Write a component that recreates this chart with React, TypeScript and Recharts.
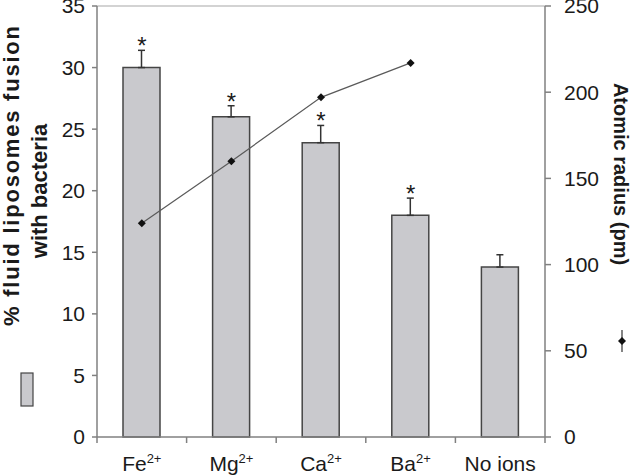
import { ComposedChart, Bar, Line, XAxis, YAxis, ErrorBar, LabelList, ReferenceLine } from 'recharts';

const categories = ['Fe', 'Mg', 'Ca', 'Ba', 'No ions'];
const charges = ['2+', '2+', '2+', '2+', ''];
const fusionPct = [30, 26, 23.9, 18, 13.8];
const fusionErr = [1.4, 0.9, 1.4, 1.4, 1.0];
const significant = ['*', '*', '*', '*', ''];
const atomicRadius = [124, 160, 197, 217, null];
const leftTicks = [0, 5, 10, 15, 20, 25, 30, 35];
const rightTicks = [0, 50, 100, 150, 200, 250];

const data = categories.map((name, i) => ({
  name,
  fusion: fusionPct[i],
  err: [0, fusionErr[i]],
  starAt: significant[i] ? fusionPct[i] + fusionErr[i] : null,
  star: significant[i],
  atomic: atomicRadius[i],
}));

const FONT = '"Liberation Sans", Arial, sans-serif';
const AXIS = '#808080';
const INK = '#1a1a1a';

function CategoryTick(props: any) {
  const { x, y, payload, index } = props;
  const half = payload?.offset || 44.8;
  const charge = charges[index];
  return (
    <g>
      <line x1={x - half} x2={x - half} y1={y} y2={y + 6} stroke={AXIS} strokeWidth={1.5} />
      {index === categories.length - 1 && (
        <line x1={x + half} x2={x + half} y1={y} y2={y + 6} stroke={AXIS} strokeWidth={1.5} />
      )}
      <text x={x} y={y + 34} textAnchor="middle" fontSize={21} fill={INK} fontFamily={FONT}>
        <tspan>{payload.value}</tspan>
        {charge && <tspan dy={-8} fontSize={13}>{charge}</tspan>}
      </text>
    </g>
  );
}

function Diamond(p: any) {
  if (p.cy == null || p.value == null) return <g key={p.index} />;
  const s = 4;
  return (
    <path
      key={p.index}
      d={`M${p.cx},${p.cy - s}L${p.cx + s},${p.cy}L${p.cx},${p.cy + s}L${p.cx - s},${p.cy}Z`}
      fill="#111"
    />
  );
}

function LeftTitle() {
  return (
    <g fontFamily={FONT} fontWeight="bold" fill={INK} fontSize={22}>
      <text transform="translate(19,176) rotate(-90)" textAnchor="middle" textLength={300} lengthAdjust="spacing">
        % fluid liposomes fusion
      </text>
      <text transform="translate(47,191) rotate(-90)" textAnchor="middle">with bacteria</text>
      <rect x={21} y={373} width={12} height={33} fill="#c9c9cd" stroke="#444" strokeWidth={1.2} />
    </g>
  );
}

function RightTitle() {
  return (
    <g fontFamily={FONT} fontWeight="bold" fontSize={20} fill={INK}>
      <text transform="translate(614,174) rotate(90)" textAnchor="middle">Atomic radius (pm)</text>
      <line x1={622} x2={622} y1={330} y2={352} stroke="#333" strokeWidth={1.2} />
      <path d="M622,337L626,341L622,345L618,341Z" fill="#111" />
    </g>
  );
}

export default function App() {
  return (
    <div style={{ position: 'absolute', left: 0, top: 0, background: '#fff', fontFamily: FONT }}>
      <ComposedChart width={632} height={476} data={data} margin={{ top: 6, right: 0, bottom: 0, left: 0 }}>
        <XAxis
          dataKey="name"
          xAxisId="cat"
          height={39}
          tickSize={0}
          tickMargin={0}
          tickLine={false}
          axisLine={{ stroke: AXIS, strokeWidth: 1.5 }}
          tick={<CategoryTick />}
          interval={0}
        />
        <YAxis
          yAxisId="left"
          orientation="left"
          width={97}
          domain={[0, 35]}
          ticks={leftTicks}
          interval={0}
          tickSize={5}
          tickMargin={7}
          tick={{ fill: INK, fontSize: 21, fontFamily: FONT }}
          axisLine={{ stroke: AXIS, strokeWidth: 1.5 }}
          tickLine={{ stroke: AXIS, strokeWidth: 1.5 }}
          label={{ content: () => <LeftTitle /> }}
        />
        <YAxis
          yAxisId="right"
          orientation="right"
          width={87}
          domain={[0, 250]}
          ticks={rightTicks}
          interval={0}
          tickSize={6}
          tickMargin={13}
          tick={{ fill: INK, fontSize: 21, fontFamily: FONT, textAnchor: 'start' }}
          axisLine={{ stroke: AXIS, strokeWidth: 1.5 }}
          tickLine={{ stroke: AXIS, strokeWidth: 1.5 }}
          label={{ content: () => <RightTitle /> }}
        />
        <ReferenceLine yAxisId="left" xAxisId="cat" y={35} stroke="#c4c4c4" strokeWidth={1.5} />
        <Bar
          yAxisId="left"
          xAxisId="cat"
          dataKey="fusion"
          fill="#c9c9cd"
          stroke="#454545"
          strokeWidth={1.5}
          barSize={37}
          isAnimationActive={false}
        >
          <ErrorBar dataKey="err" width={3.5} stroke="#333" strokeWidth={1.5} direction="y" />
        </Bar>
        <Line
          yAxisId="left"
          xAxisId="cat"
          dataKey="starAt"
          stroke="none"
          dot={false}
          activeDot={false}
          isAnimationActive={false}
        >
          <LabelList
            dataKey="star"
            content={(p: any) =>
              p.value ? (
                <text x={p.x} y={p.y + 4} textAnchor="middle" fontSize={24} fill={INK} fontFamily={FONT}>
                  {p.value}
                </text>
              ) : null
            }
          />
        </Line>
        <Line
          yAxisId="right"
          xAxisId="cat"
          dataKey="atomic"
          stroke="#5a5a5a"
          strokeWidth={1.2}
          dot={Diamond}
          activeDot={false}
          isAnimationActive={false}
        />
      </ComposedChart>
    </div>
  );
}
